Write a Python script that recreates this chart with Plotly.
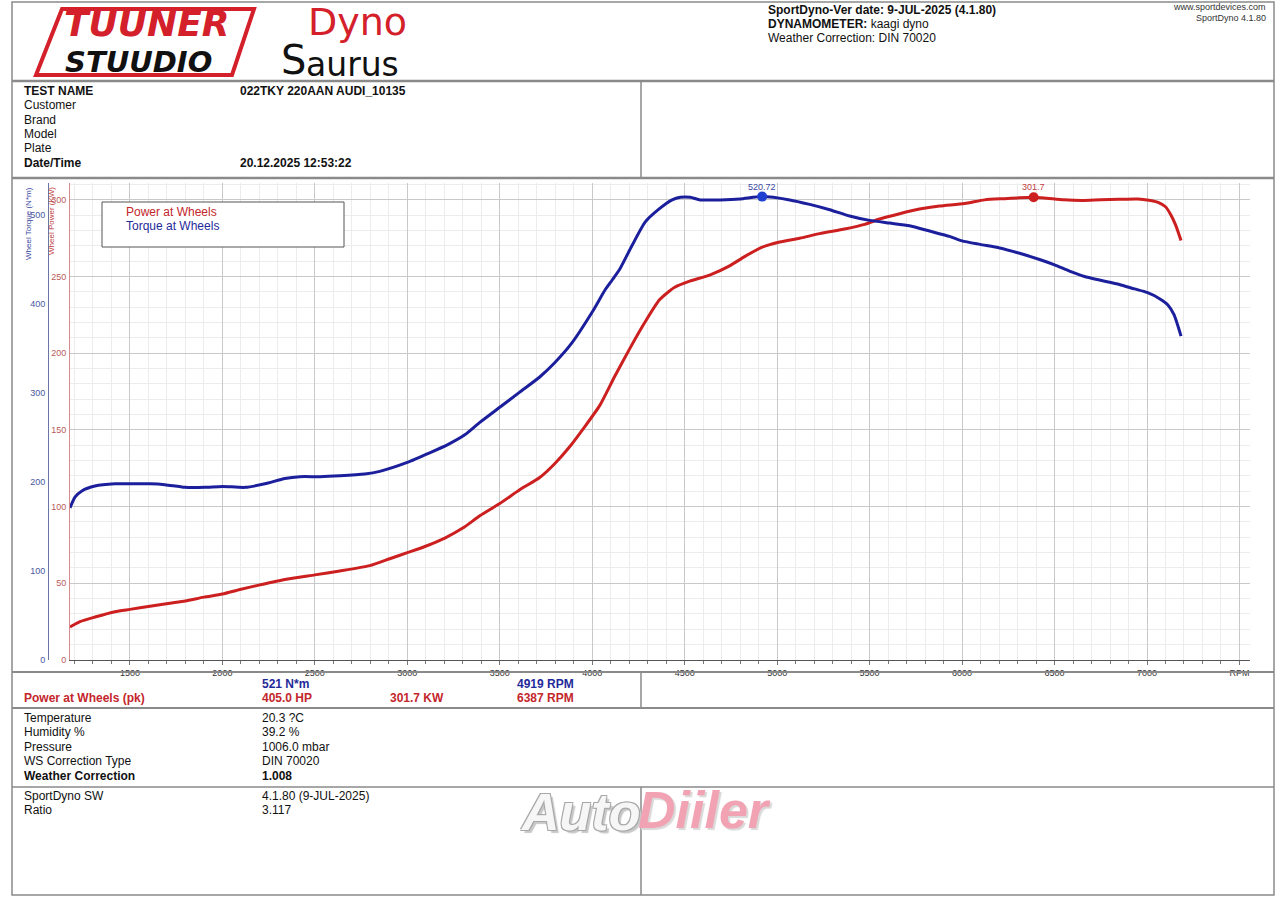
import plotly.graph_objects as go

W, H = 1280, 904      # reference pixel space
FIG_H = 909           # rendered canvas height (compensates for the capture's vertical resize)

# ---------------- data ----------------
rpm_torque = [1176, 1203, 1240, 1311, 1419, 1500, 1608, 1689, 1797, 1905, 2000, 2124, 2230, 2338,
              2419, 2527, 2635, 2770, 2851, 3000, 3124, 3219, 3311, 3392, 3500, 3608, 3716, 3797,
              3889, 4000, 4070, 4108, 4151, 4216, 4286, 4357, 4432, 4476, 4530, 4584, 4692, 4800,
              4919, 5068, 5176, 5284, 5392, 5500, 5608, 5716, 5824, 5932, 6000, 6097, 6203, 6311,
              6419, 6500, 6581, 6662, 6743, 6851, 6932, 7000, 7068, 7113, 7146, 7184]
torque_nm = [171, 183, 190, 195.5, 198, 198, 198, 197, 194, 194, 195, 194, 198, 204,
             206, 206, 207, 209, 212, 222, 233, 242, 253, 267, 284, 301, 318, 334,
             356, 391, 416, 427, 440, 466, 492, 506, 517, 520, 520, 517, 517, 518,
             520.72, 517, 512, 506, 499, 494, 491, 488, 482, 476, 471, 467, 463, 457,
             450, 444, 437, 431, 427, 422, 417, 413, 406, 399, 388, 364]

rpm_power = [1176, 1230, 1311, 1419, 1500, 1608, 1716, 1800, 1900, 2000, 2095, 2203, 2338, 2500,
             2635, 2797, 2905, 3000, 3095, 3203, 3300, 3392, 3500, 3608, 3716, 3797, 3878, 3959,
             4041, 4122, 4203, 4284, 4365, 4446, 4527, 4635, 4743, 4824, 4916, 5014, 5122, 5230,
             5365, 5473, 5554, 5662, 5770, 5878, 6014, 6122, 6230, 6300, 6387, 6460, 6550, 6650,
             6750, 6850, 6950, 7010, 7060, 7100, 7130, 7155, 7184]
power_kw = [21.5, 25, 28, 31.5, 33, 35, 37, 38.5, 41, 43, 46, 49, 52.5, 55.5,
            58, 61.5, 66, 70, 74, 79.5, 86, 94, 102, 111, 119, 128, 139, 152,
            166, 185, 203, 220, 235, 243, 247, 251, 257, 263, 269, 272.5, 275, 278,
            281, 284, 287.5, 291, 294, 296, 297.6, 300, 300.8, 301.3, 301.7, 301.0, 300.0, 299.6,
            300.1, 300.4, 300.6, 299.8, 298.4, 295.5, 290, 283.5, 273.5]

peak_torque = (4919, 520.72)
peak_power = (6387, 301.7)

x_tickvals = [1500, 2000, 2500, 3000, 3500, 4000, 4500, 5000, 5500, 6000, 6500, 7000, 7500]
x_ticktext = ["1500", "2000", "2500", "3000", "3500", "4000", "4500", "5000", "5500", "6000",
              "6500", "7000", "RPM"]

info_labels = ["TEST NAME", "Customer", "Brand", "Model", "Plate", "Date/Time"]
info_values = ["022TKY 220AAN AUDI_10135", "", "", "", "", "20.12.2025 12:53:22"]
weather_labels = ["Temperature", "Humidity %", "Pressure", "WS Correction Type", "Weather Correction"]
weather_values = ["20.3 ?C", "39.2 %", "1006.0 mbar", "DIN 70020", "1.008"]
sw_labels = ["SportDyno SW", "Ratio"]
sw_values = ["4.1.80 (9-JUL-2025)", "3.117"]

# ---------------- helpers ----------------
def px(x):
    return x / W

def py(y):
    return 1 - y / H

BLUE = "#1c1f9c"
RED = "#cc1f1f"
TXTBLUE = "#1f2a9a"
TXTRED = "#c3262b"
FONT = "Liberation Sans"

X0, X1 = 70, 1250
Y0, Y1 = 183, 660
XR = [1176, 7557]
PR = [0, 311]
TR = [0, 536]

fig = go.Figure()

fig.add_trace(go.Scatter(x=rpm_power, y=power_kw, mode="lines", line=dict(color=RED, width=3, shape="spline", smoothing=0.6),
                         name="Power at Wheels", yaxis="y", showlegend=False))
fig.add_trace(go.Scatter(x=rpm_torque, y=torque_nm, mode="lines", line=dict(color=BLUE, width=3, shape="spline", smoothing=0.6),
                         name="Torque at Wheels", yaxis="y2", showlegend=False))
fig.add_trace(go.Scatter(x=[peak_power[0]], y=[peak_power[1]], mode="markers",
                         marker=dict(color=RED, size=10), yaxis="y", showlegend=False))
fig.add_trace(go.Scatter(x=[peak_torque[0]], y=[peak_torque[1]], mode="markers",
                         marker=dict(color="#1f3fd0", size=10), yaxis="y2", showlegend=False))

fig.update_layout(
    width=W, height=FIG_H, margin=dict(l=0, r=0, t=0, b=0),
    paper_bgcolor="white", plot_bgcolor="white",
    font=dict(family=FONT, size=12, color="#111"),
    xaxis=dict(domain=[px(X0), px(X1)], range=XR, tickvals=x_tickvals, ticktext=x_ticktext,
               showgrid=True, gridcolor="#c9c9c9", gridwidth=1,
               minor=dict(dtick=100, tick0=1500, showgrid=True, gridcolor="#ececec", ticks="outside",
                          ticklen=3, tickcolor="#777"),
               ticks="outside", ticklen=4, tickcolor="#777", ticklabelstandoff=0,
               showline=True, linecolor="#555", linewidth=1, zeroline=False,
               tickfont=dict(size=9, color="#333", family=FONT), anchor="y"),
    yaxis=dict(domain=[py(Y1), py(Y0)], range=PR, tick0=0, dtick=50,
               showgrid=True, gridcolor="#c9c9c9", gridwidth=1,
               minor=dict(dtick=10, showgrid=True, gridcolor="#ececec"),
               showline=True, linecolor="#d98a8a", linewidth=1, zeroline=False,
               ticks="", ticklabelstandoff=1,
               tickfont=dict(size=9, color="#b85a5a", family=FONT), anchor="x"),
    yaxis2=dict(range=TR, tick0=0, dtick=100, overlaying="y", anchor="free", position=px(48),
                side="left", showgrid=False, showline=True, linecolor="#6b75a8", linewidth=1,
                zeroline=False, ticks="", ticklabelstandoff=1,
                tickfont=dict(size=9, color="#4a56a0", family=FONT)),
)

shapes = []
def hline(y, x0=12, x1=1274, w=2, c="#8a8a8a"):
    shapes.append(dict(type="line", xref="paper", yref="paper", x0=px(x0), x1=px(x1), y0=py(y), y1=py(y),
                       line=dict(color=c, width=w)))

def vline(x, y0, y1, w=1.5, c="#8a8a8a"):
    shapes.append(dict(type="line", xref="paper", yref="paper", x0=px(x), x1=px(x), y0=py(y0), y1=py(y1),
                       line=dict(color=c, width=w)))

# outer frame
shapes.append(dict(type="rect", xref="paper", yref="paper", x0=px(12), x1=px(1274), y0=py(895), y1=py(2),
                   line=dict(color="#8a8a8a", width=1.5)))
hline(81, w=2.5)
hline(178, w=2.5)
hline(672, w=2)
hline(708, w=2)
hline(787, w=1.5)
vline(641, 82, 177)
vline(641, 672, 708)
vline(641, 787, 895)

# legend box
shapes.append(dict(type="rect", xref="paper", yref="paper", x0=px(102), x1=px(344), y0=py(247), y1=py(202),
                   line=dict(color="#555", width=1), fillcolor="white", layer="above"))

# Tuuner logo frame (parallelogram)
shapes.append(dict(type="path", xref="paper", yref="paper",
                   path=f"M {px(62)},{py(9)} L {px(254)},{py(9)} L {px(232)},{py(75)} L {px(36)},{py(75)} Z",
                   line=dict(color="#d4202a", width=4)))
fig.update_layout(shapes=shapes)

ann = []
def text(x, y, s, size=12, color="#111", bold=False, anchor="left", italic=False, family=FONT, angle=0,
         yanchor="middle", shadow=None):
    a = dict(xref="paper", yref="paper", x=px(x), y=py(y), text=s, showarrow=False,
             xanchor=anchor, yanchor=yanchor, textangle=angle,
             font=dict(size=size, color=color, family=family,
                       weight="bold" if bold else "normal", style="italic" if italic else "normal"))
    if shadow is not None:
        a["font"]["shadow"] = shadow
    ann.append(a)

# logos
text(146, 23, "TUUNER", size=36, color="#d4202a", bold=True, italic=True, anchor="center", family="DejaVu Sans")
text(138, 61.5, "STUUDIO", size=29, color="#111", bold=True, italic=True, anchor="center", family="DejaVu Sans")
text(306, 22, "Dyno", size=38, color="#d4202a", anchor="left", family="DejaVu Sans")
text(279, 60, "S", size=40, color="#111", anchor="left", family="DejaVu Sans")
text(304, 64, "aurus", size=33, color="#111", anchor="left", family="DejaVu Sans")

# header right
text(766, 10, "SportDyno-Ver date: 9-JUL-2025 (4.1.80)", size=12, bold=True)
text(766, 24, "<b>DYNAMOMETER:</b> kaagi dyno", size=12)
text(766, 38, "Weather Correction: DIN 70020", size=12)
text(1268, 7, "www.sportdevices.com", size=9, color="#333", anchor="right")
text(1268, 18, "SportDyno 4.1.80", size=9, color="#333", anchor="right")

# test info
for i, (lab, val) in enumerate(zip(info_labels, info_values)):
    yy = 91 + i * 14.3
    b = lab in ("TEST NAME", "Date/Time")
    text(22, yy, lab, size=12, bold=b)
    if val:
        text(238, yy, val, size=12, bold=True)

# legend text
text(124, 212, "Power at Wheels", size=12, color=TXTRED)
text(124, 226, "Torque at Wheels", size=12, color=TXTBLUE)

# axis titles
text(29, 224, "Wheel Torque (N*m)", size=8, color="#3a48a0", anchor="center", angle=-90)
text(52, 221, "Wheel Power (KW)", size=8, color="#c04040", anchor="center", angle=-90)

# peak labels
ann.append(dict(xref="x", yref="paper", x=peak_torque[0], y=py(187), text=f"{peak_torque[1]:.2f}", showarrow=False,
                xanchor="center", yanchor="middle", font=dict(size=9, color="#3a48a0", family=FONT)))
ann.append(dict(xref="x", yref="paper", x=peak_power[0], y=py(187), text=f"{peak_power[1]}", showarrow=False,
                xanchor="center", yanchor="middle", font=dict(size=9, color="#c04040", family=FONT)))

# results
text(260, 684, "521 N*m", size=12, color=TXTBLUE, bold=True)
text(515, 684, "4919 RPM", size=12, color=TXTBLUE, bold=True)
text(22, 698, "Power at Wheels (pk)", size=12, color=TXTRED, bold=True)
text(260, 698, "405.0 HP", size=12, color=TXTRED, bold=True)
text(388, 698, "301.7 KW", size=12, color=TXTRED, bold=True)
text(515, 698, "6387 RPM", size=12, color=TXTRED, bold=True)

for i, (lab, val) in enumerate(zip(weather_labels, weather_values)):
    yy = 718 + i * 14.4
    b = lab == "Weather Correction"
    text(22, yy, lab, size=12, bold=b)
    text(260, yy, val, size=12, bold=b)

for i, (lab, val) in enumerate(zip(sw_labels, sw_values)):
    yy = 796 + i * 14.4
    text(22, yy, lab, size=12)
    text(260, yy, val, size=12)

# watermark
outline = "-1px -1px 0 #a8a8a8, 1px -1px 0 #a8a8a8, -1px 1px 0 #a8a8a8, 1px 1px 0 #a8a8a8, 3px 3px 1px #c8c8c8"
text(518, 812, "Auto", size=52, color="#f6f6f6", bold=True, italic=True, shadow=outline)
text(636, 810, "Diiler", size=52, color="#f2a3b3", bold=True, italic=True,
     shadow="2px 2px 1px #d9d9d9")

fig.update_layout(annotations=ann)

fig.write_html("out.html", config={"displayModeBar": False},
               post_script="document.body.style.margin='0';document.body.style.padding='0';"
                           "document.documentElement.style.overflow='hidden';document.body.style.overflow='hidden';")
